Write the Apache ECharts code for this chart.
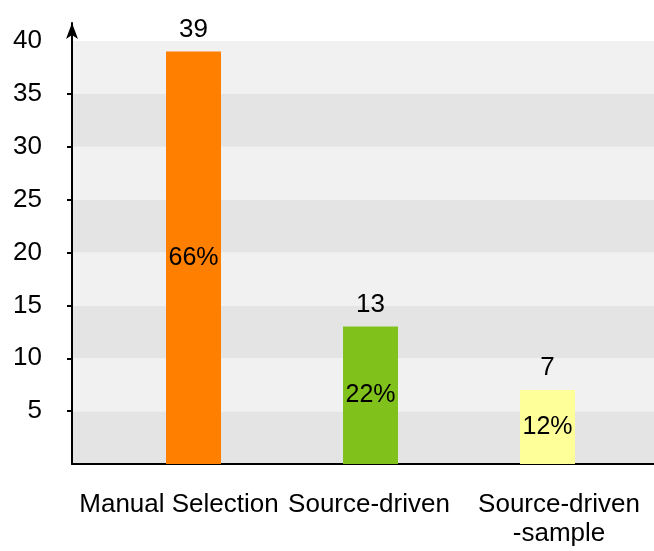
<!DOCTYPE html>
<html>
<head>
<meta charset="utf-8">
<title>Selection method counts</title>
<script src="https://cdn.jsdelivr.net/npm/echarts@6/dist/echarts.min.js"></script>
<style>
  html, body { margin: 0; padding: 0; background: #ffffff; }
  #chart { width: 654px; height: 551px; }
</style>
</head>
<body>
<div id="chart"></div>
<script>
// Counts per selection method, with their share of the total
const categories = ['Manual Selection', 'Source-driven', 'Source-driven\n-sample'];
const counts = [39, 13, 7];
const shares = ['66%', '22%', '12%'];
const barColors = ['#ff7f00', '#80c11c', '#ffff99'];
const tickValues = [5, 10, 15, 20, 25, 30, 35];
const labelValues = [5, 10, 15, 20, 25, 30, 35, 40];

const FONT = '"Liberation Sans", Arial, Helvetica, sans-serif';
const chart = echarts.init(document.getElementById('chart'), null, { renderer: 'canvas' });

// The arrow axis is taller than the plot; its max keeps the same units per pixel
const plotTop = 41, arrowTop = 23, plotBottom = 87, chartH = 551;
const arrowMax = 40 * (chartH - plotBottom - arrowTop) / (chartH - plotBottom - plotTop);

chart.setOption({
  animation: false,
  backgroundColor: '#ffffff',
  grid: [
    // 0: plot background, y labels and x baseline
    { left: 72, right: 0, top: plotTop, bottom: plotBottom, containLabel: false },
    // 1: y axis line running up to the arrow, with its ticks
    { left: 72, right: 0, top: arrowTop, bottom: plotBottom, containLabel: false },
    // 2: bars
    { left: 105, right: 18, top: plotTop, bottom: plotBottom, containLabel: false },
    // 3: category labels
    { left: 84, right: 0, top: plotTop, bottom: plotBottom, containLabel: false }
  ],
  xAxis: [
    {
      gridIndex: 0, type: 'category', data: categories,
      axisLine: { show: true, lineStyle: { color: '#000', width: 2 } },
      axisTick: { show: false }, axisLabel: { show: false }, splitLine: { show: false }
    },
    { gridIndex: 1, type: 'category', data: categories, show: false },
    { gridIndex: 2, type: 'category', data: categories, show: false },
    {
      gridIndex: 3, type: 'category', data: categories,
      axisLine: { show: false }, axisTick: { show: false },
      axisLabel: {
        show: true, interval: 0, margin: 26, color: '#000',
        fontFamily: FONT, fontSize: 26, lineHeight: 29, align: 'center'
      }
    }
  ],
  yAxis: [
    {
      gridIndex: 0, type: 'value', min: 0, max: 40, interval: 5,
      axisLine: { show: false },
      axisTick: { show: false },
      axisLabel: {
        show: true, margin: 30, color: '#000',
        fontFamily: FONT, fontSize: 26,
        customValues: labelValues
      },
      splitLine: { show: false },
      splitArea: { show: true, areaStyle: { color: ['#e4e4e4', '#f1f1f1'] } }
    },
    {
      gridIndex: 1, type: 'value', min: 0, max: arrowMax,
      axisLine: {
        show: true, symbol: ['none', 'arrow'], symbolSize: [9, 16],
        lineStyle: { color: '#000', width: 2 }
      },
      axisTick: {
        show: true, inside: false, length: 5,
        customValues: tickValues,
        lineStyle: { color: '#000', width: 2 }
      },
      axisLabel: { show: false },
      splitLine: { show: false }, splitArea: { show: false }
    },
    {
      gridIndex: 2, type: 'value', min: 0, max: 40, interval: 5, show: false,
      splitLine: { show: false }
    },
    {
      gridIndex: 3, type: 'value', min: 0, max: 40, show: false,
      splitLine: { show: false }
    }
  ],
  series: [
    {
      name: 'Count',
      type: 'bar',
      xAxisIndex: 2, yAxisIndex: 2,
      barWidth: 55,
      data: counts.map(function (v, i) {
        return { value: v, itemStyle: { color: barColors[i] } };
      }),
      label: {
        show: true, position: 'top', distance: 9,
        color: '#000', fontFamily: FONT, fontSize: 26,
        formatter: '{c}'
      },
      z: 3
    },
    {
      name: 'Share',
      type: 'bar',
      xAxisIndex: 2, yAxisIndex: 2,
      barWidth: 55, barGap: '-100%',
      data: counts.slice(),
      itemStyle: { color: 'rgba(0,0,0,0)' },
      label: {
        show: true, position: 'inside',
        color: '#000', fontFamily: FONT, fontSize: 25,
        formatter: function (p) { return shares[p.dataIndex]; }
      },
      z: 4
    }
  ]
});
</script>
</body>
</html>
